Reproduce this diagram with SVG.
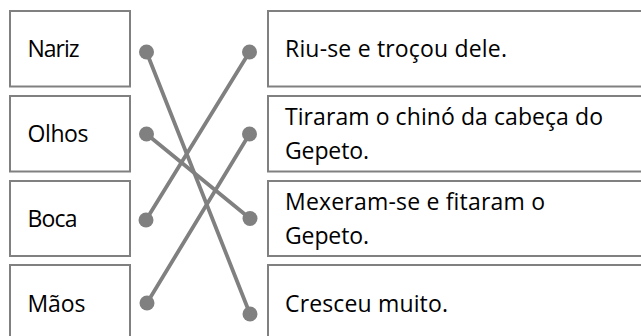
<svg xmlns="http://www.w3.org/2000/svg" width="641" height="336" viewBox="0 0 641 336">
<style>
.box{fill:#fff;stroke:#808080;stroke-width:2}
.t{font-family:"Open Sans","Noto Sans",sans-serif;font-size:23px;fill:#000}
.ln{stroke:#808080;stroke-width:3.8;stroke-linecap:round;fill:none}
.dot{fill:#808080}
</style>
<rect width="641" height="336" fill="#fff"/>
<g id="left-nariz"><rect class="box" x="10" y="11" width="120" height="75.5"/><text class="t" x="27.5" y="57" textLength="52">Nariz</text></g>
<g id="left-olhos"><rect class="box" x="10" y="96" width="120" height="75.5"/><text class="t" x="27.5" y="142" textLength="61">Olhos</text></g>
<g id="left-boca"><rect class="box" x="10" y="181" width="120" height="75"/><text class="t" x="27.5" y="227" textLength="50">Boca</text></g>
<g id="left-maos"><rect class="box" x="10" y="265" width="120" height="80"/><text class="t" x="27.5" y="311.5" textLength="58">Mãos</text></g>
<g id="right-1"><rect class="box" x="268" y="11" width="400" height="75.5"/><text class="t" x="285" y="57" textLength="222">Riu-se e troçou dele.</text></g>
<g id="right-2"><rect class="box" x="268" y="96" width="400" height="75.5"/><text class="t" x="285" y="124.5" textLength="318">Tiraram o chinó da cabeça do</text><text class="t" x="285" y="158.5" textLength="84">Gepeto.</text></g>
<g id="right-3"><rect class="box" x="268" y="181" width="400" height="75"/><text class="t" x="285" y="209.5" textLength="260">Mexeram-se e fitaram o</text><text class="t" x="285" y="243.5" textLength="84">Gepeto.</text></g>
<g id="right-4"><rect class="box" x="268" y="265" width="400" height="80"/><text class="t" x="285" y="311.5" textLength="163">Cresceu muito.</text></g>
<g id="connectors">
<line class="ln" x1="146.5" y1="52" x2="250" y2="314"/>
<line class="ln" x1="146.5" y1="134" x2="250" y2="218.5"/>
<line class="ln" x1="146" y1="220" x2="249.5" y2="52"/>
<line class="ln" x1="147" y1="303" x2="249.5" y2="134"/>
<circle class="dot" cx="146.5" cy="52" r="7.5"/>
<circle class="dot" cx="146.5" cy="134" r="7.5"/>
<circle class="dot" cx="146" cy="220" r="7.5"/>
<circle class="dot" cx="147" cy="303" r="7.5"/>
<circle class="dot" cx="249.5" cy="52" r="7.5"/>
<circle class="dot" cx="249.5" cy="134" r="7.5"/>
<circle class="dot" cx="250" cy="218.5" r="7.5"/>
<circle class="dot" cx="250" cy="314" r="7.5"/>
</g>
</svg>
